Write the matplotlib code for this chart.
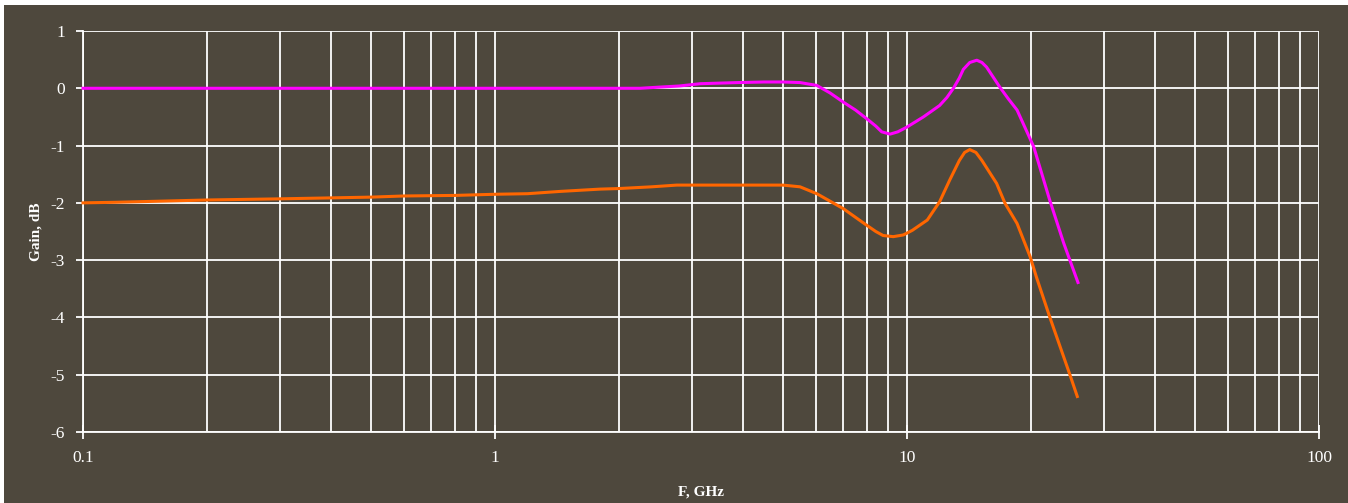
import numpy as np
import matplotlib
matplotlib.use("Agg")
import matplotlib.pyplot as plt
from matplotlib.patches import Rectangle
from matplotlib.ticker import LogLocator, FixedLocator, NullFormatter

plt.rcParams["axes.unicode_minus"] = False

# Gain curves (frequency in GHz, gain in dB)
freq_upper = [0.1, 0.2, 0.5, 1.0, 2.0, 2.25, 2.5, 2.8, 3.15, 3.5, 3.9, 4.5, 5.0, 5.5,
              6.04, 6.5, 7.0, 7.5, 7.98, 8.4, 8.68, 9.1, 9.5, 9.98, 10.96, 12.0, 12.5,
              12.96, 13.4, 13.7, 14.2, 14.77, 15.2, 15.6, 16.8, 17.6, 18.5, 20.3, 22.2,
              24.0, 26.0]
gain_upper = [0.0, 0.0, 0.0, 0.0, 0.0, 0.0, 0.02, 0.04, 0.08, 0.09, 0.1, 0.11, 0.11, 0.1,
              0.05, -0.08, -0.24, -0.38, -0.53, -0.66, -0.76, -0.8, -0.76, -0.68, -0.5,
              -0.3, -0.16, 0.0, 0.18, 0.33, 0.45, 0.49, 0.45, 0.37, 0.02, -0.18, -0.38,
              -1.02, -1.95, -2.7, -3.39]

freq_lower = [0.1, 0.12, 0.2, 0.3, 0.5, 0.6, 0.8, 1.0, 1.2, 1.44, 1.8, 2.0, 2.4, 2.76,
              3.5, 4.2, 5.0, 5.5, 6.04, 7.0, 7.98, 8.4, 8.75, 9.26, 9.8, 10.3, 11.2, 12.0,
              12.7, 13.4, 13.8, 14.2, 14.7, 15.2, 16.5, 17.3, 18.5, 19.9, 20.6, 22.2, 24.8,
              25.9]
gain_lower = [-2.0, -1.99, -1.95, -1.93, -1.9, -1.88, -1.87, -1.85, -1.84, -1.8, -1.76,
              -1.75, -1.72, -1.69, -1.69, -1.69, -1.69, -1.72, -1.84, -2.1, -2.39, -2.5,
              -2.57, -2.59, -2.56, -2.48, -2.3, -1.98, -1.6, -1.26, -1.12, -1.07, -1.12,
              -1.26, -1.66, -2.01, -2.36, -2.94, -3.29, -3.99, -4.98, -5.38]

bg = "#4e483d"
serif = ["Liberation Serif", "DejaVu Serif"]

fig = plt.figure(figsize=(13.48, 5.03), dpi=100, facecolor="white")
fig.patches.append(Rectangle((4 / 1348, 0), 1, 1 - 5 / 503, transform=fig.transFigure,
                             facecolor=bg, edgecolor="none", zorder=-10))
ax = fig.add_axes([83 / 1348, 1 - 432 / 503, (1319 - 83) / 1348, (432 - 31) / 503])
ax.set_facecolor(bg)

ax.plot(freq_upper, gain_upper, color="#ff00ff", lw=2.2, zorder=3, clip_on=False)
ax.plot(freq_lower, gain_lower, color="#ff6600", lw=2.2, zorder=3, clip_on=False)

ax.set_xscale("log")
ax.set_xlim(0.1, 100)
ax.set_ylim(-6, 1)
ax.xaxis.set_major_locator(FixedLocator([0.1, 1, 10, 100]))
ax.xaxis.set_minor_locator(LogLocator(base=10, subs=np.arange(2, 10)))
ax.xaxis.set_minor_formatter(NullFormatter())
ax.set_xticklabels(["0.1", "1", "10", "100"])
ax.set_yticks(range(-6, 2))

ax.grid(True, which="both", axis="x", color="white", lw=1.3)
ax.grid(True, which="major", axis="y", color="white", lw=1.3)
ax.set_axisbelow(True)

for side in ["top", "right"]:
    ax.spines[side].set_visible(False)
for side in ["left", "bottom"]:
    ax.spines[side].set_color("white")
    ax.spines[side].set_linewidth(1.3)

ax.tick_params(axis="x", which="major", direction="inout", length=10, width=1.3,
               color="white", pad=8)
ax.tick_params(axis="x", which="minor", length=0)
ax.tick_params(axis="y", direction="out", length=5, width=1.3, color="white", pad=8)
for lab in ax.get_xticklabels() + ax.get_yticklabels():
    lab.set_family(serif)
    lab.set_fontsize(12.5)
    lab.set_color("white")

ax.set_xlabel("F, GHz", family=serif, fontsize=11, fontweight="bold", color="white",
              labelpad=14)
ax.set_ylabel("Gain, dB", family=serif, fontsize=11, fontweight="bold", color="white",
              labelpad=6)

fig.savefig("out.png", dpi=100, facecolor=fig.get_facecolor())
